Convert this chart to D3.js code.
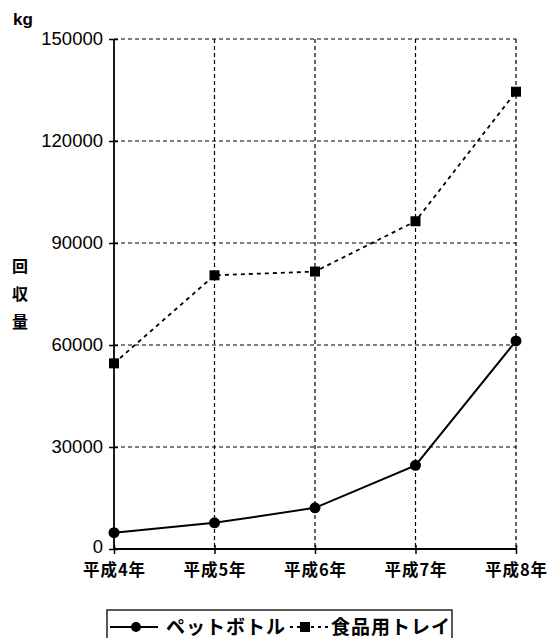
<!DOCTYPE html>
<html><head><meta charset="utf-8">
<script src="https://cdn.jsdelivr.net/npm/d3@7"></script>
<style>body{margin:0;background:#fff}svg{display:block}</style>
</head><body>
<script>
const categories = ["平成4年","平成5年","平成6年","平成7年","平成8年"];
const petBottle = [4800, 7700, 12100, 24600, 61200];
const foodTray = [54600, 80500, 81600, 96400, 134500];
const yTicks = [0, 30000, 60000, 90000, 120000, 150000];
const seriesNames = ["ペットボトル","食品用トレイ"];

const W = 555, H = 638;
const svg = d3.select("body").append("svg").attr("width", W).attr("height", H);
const font = "'Liberation Sans', Arial, 'Noto Sans CJK JP', sans-serif";
const jfont = "'Noto Sans CJK JP', sans-serif";

const x = d3.scalePoint().domain(categories).range([114, 516]);
const y = d3.scaleLinear().domain([0, 150000]).range([549, 39]);

// grid
const g = svg.append("g");
g.selectAll(".hg").data(yTicks.filter(d => d > 0)).join("line")
  .attr("x1", 114).attr("x2", 516).attr("y1", d => y(d)).attr("y2", d => y(d))
  .attr("stroke", "#000").attr("stroke-width", 1.2).attr("stroke-dasharray", "4,3");
g.selectAll(".vg").data(categories.slice(1)).join("line")
  .attr("x1", d => x(d)).attr("x2", d => x(d)).attr("y1", y(150000)).attr("y2", y(0))
  .attr("stroke", "#000").attr("stroke-width", 1.2).attr("stroke-dasharray", "4,3");

// axes
const yAxis = svg.append("g").attr("transform", "translate(114,0)")
  .call(d3.axisLeft(y).tickValues(yTicks).tickSize(5).tickPadding(6).tickFormat(d3.format("d")));
yAxis.select(".domain").attr("d", `M0,${y(150000)}V${y(0)}`).attr("stroke-width", 1.8);
yAxis.selectAll(".tick line").attr("x2", 4).attr("x1", -5).attr("stroke-width", 1.5);
yAxis.selectAll("text").attr("font-family", font).attr("font-size", 18.5).attr("fill", "#000")
  .attr("dy", d => d === 0 ? "0.2em" : "0.32em");

const xAxis = svg.append("g").attr("transform", `translate(0,${y(0)})`)
  .call(d3.axisBottom(x).tickSize(6).tickPadding(9));
xAxis.select(".domain").attr("d", `M114,0H516`).attr("stroke-width", 1.8);
xAxis.selectAll(".tick line").attr("y1", -4).attr("y2", 5).attr("stroke-width", 1.5);
xAxis.selectAll("text").attr("font-family", jfont).attr("font-weight", "bold").attr("font-size", 16.5)
  .attr("letter-spacing", 1).attr("fill", "#000");

// units and title
svg.append("text").attr("x", 13).attr("y", 25).text("kg")
  .attr("font-family", font).attr("font-weight", "bold").attr("font-size", 17);
svg.append("g").selectAll("text").data(["回","収","量"]).join("text")
  .attr("x", 20).attr("y", (d, i) => 272 + i * 28).attr("text-anchor", "middle")
  .attr("font-family", jfont).attr("font-weight", "bold").attr("font-size", 16).text(d => d);

// lines
const line = d3.line().x((d, i) => x(categories[i])).y(d => y(d));
svg.append("path").datum(foodTray).attr("d", line).attr("fill", "none")
  .attr("stroke", "#000").attr("stroke-width", 1.8).attr("stroke-dasharray", "4,4");
svg.append("path").datum(petBottle).attr("d", line).attr("fill", "none")
  .attr("stroke", "#000").attr("stroke-width", 2);

svg.append("g").selectAll("circle").data(petBottle).join("circle")
  .attr("cx", (d, i) => x(categories[i])).attr("cy", d => y(d)).attr("r", 5.5).attr("fill", "#000");
svg.append("g").selectAll("rect").data(foodTray).join("rect")
  .attr("x", (d, i) => x(categories[i]) - 5).attr("y", d => y(d) - 5)
  .attr("width", 10).attr("height", 10).attr("fill", "#000");

// legend
const lg = svg.append("g");
lg.append("rect").attr("x", 107).attr("y", 610).attr("width", 345).attr("height", 40)
  .attr("fill", "none").attr("stroke", "#000").attr("stroke-width", 1.3);
lg.append("line").attr("x1", 110).attr("x2", 158).attr("y1", 627).attr("y2", 627)
  .attr("stroke", "#000").attr("stroke-width", 2);
lg.append("circle").attr("cx", 136).attr("cy", 627).attr("r", 5).attr("fill", "#000");
lg.append("text").attr("x", 166).attr("y", 634).text(seriesNames[0])
  .attr("font-family", jfont).attr("font-weight", "bold").attr("font-size", 19).attr("letter-spacing", 1);
lg.append("line").attr("x1", 290).attr("x2", 328).attr("y1", 627).attr("y2", 627)
  .attr("stroke", "#000").attr("stroke-width", 1.8).attr("stroke-dasharray", "3,4");
lg.append("rect").attr("x", 300).attr("y", 622).attr("width", 10).attr("height", 10).attr("fill", "#000");
lg.append("text").attr("x", 331).attr("y", 634).text(seriesNames[1])
  .attr("font-family", jfont).attr("font-weight", "bold").attr("font-size", 19).attr("letter-spacing", 1);
</script>
</body></html>
